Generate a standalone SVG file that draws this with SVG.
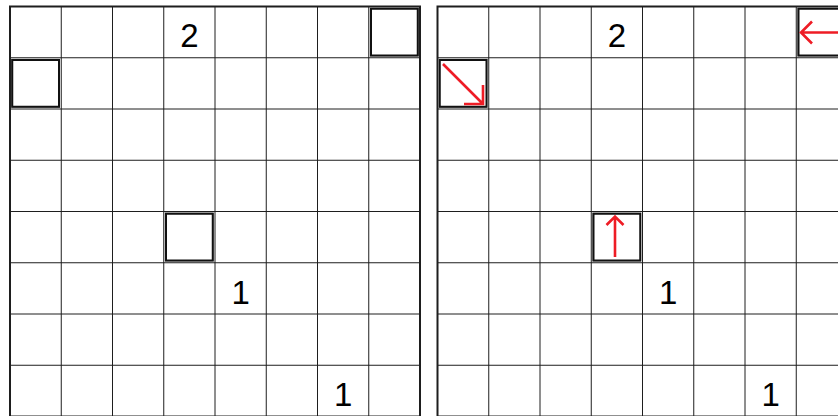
<svg xmlns="http://www.w3.org/2000/svg" width="838" height="416" viewBox="0 0 838 416">
<style>
.grid{stroke:#1e1e1e;stroke-width:1;fill:none}
.frame{stroke:#1e1e1e;stroke-width:2;fill:none}
.box{stroke:#111;stroke-width:2;fill:none}
.shadow{stroke:#8a8a8a;stroke-width:1;fill:none}
.num{font-family:"Liberation Sans",Arial,sans-serif;font-size:33px;fill:#000;text-anchor:middle}
.arrow{stroke:#ee1c25;stroke-width:2.6;fill:none;stroke-linecap:butt;stroke-linejoin:miter}
</style>
<rect width="838" height="416" fill="#fff"/>
<defs>
<g id="gridlines">
<path class="grid" d="M51.25 0V420M102.5 0V420M153.75 0V420M205 0V420M256.25 0V420M307.5 0V420M358.75 0V420M0 51.25H410M0 102.5H410M0 153.75H410M0 205H410M0 256.25H410M0 307.5H410M0 358.75H410"/>
<rect class="frame" x="0" y="0" width="410" height="410"/>
</g>
</defs>
<g id="left-grid">
<use href="#gridlines" x="10" y="6.5"/>
<g id="left-box-r0c7"><rect class="shadow" x="370.25" y="8" width="48" height="48"/><rect class="box" x="371" y="8.75" width="46.75" height="46.75"/></g>
<g id="left-box-r1c0"><rect class="shadow" x="11.5" y="59.25" width="48" height="48"/><rect class="box" x="12.25" y="60" width="46.75" height="46.75"/></g>
<g id="left-box-r4c3"><rect class="shadow" x="165.25" y="213" width="48" height="48"/><rect class="box" x="166" y="213.75" width="46.75" height="46.75"/></g>
<text class="num" x="189.4" y="47">2</text>
<text class="num" x="240.6" y="303.5">1</text>
<text class="num" x="343.1" y="406">1</text>
</g>
<g id="right-grid">
<use href="#gridlines" x="437.5" y="6.5"/>
<g id="right-box-r0c7"><rect class="shadow" x="797.75" y="8" width="48" height="48"/><rect class="box" x="798.5" y="8.75" width="46.75" height="46.75"/></g>
<g id="right-box-r1c0"><rect class="shadow" x="439" y="59.25" width="48" height="48"/><rect class="box" x="439.75" y="60" width="46.75" height="46.75"/></g>
<g id="right-box-r4c3"><rect class="shadow" x="592.75" y="213" width="48" height="48"/><rect class="box" x="593.5" y="213.75" width="46.75" height="46.75"/></g>
<text class="num" x="616.9" y="47">2</text>
<text class="num" x="668.1" y="303.5">1</text>
<text class="num" x="770.6" y="406">1</text>
</g>
<g id="connectors">
<path class="arrow" d="M443 64L483 104M483 85V104H464"/>
<path class="arrow" d="M801 32.5H840M812 21.5L801 32.5L812 43.5"/>
<path class="arrow" d="M615 216V257M606.5 225L615 216.5L623.5 225"/>
</g>
</svg>
